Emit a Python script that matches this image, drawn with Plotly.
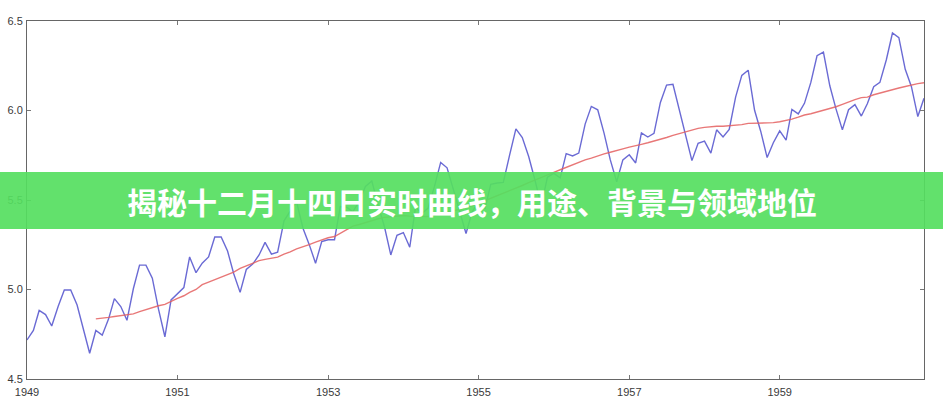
import plotly.graph_objects as go
import pandas as pd

# Monthly log values, Jan 1949 - Dec 1960
log_values = [
    4.718, 4.771, 4.883, 4.860, 4.796, 4.905, 4.997, 4.997, 4.913, 4.779, 4.644, 4.771,
    4.745, 4.836, 4.949, 4.905, 4.828, 5.004, 5.136, 5.136, 5.063, 4.890, 4.736, 4.942,
    4.977, 5.011, 5.182, 5.094, 5.147, 5.182, 5.293, 5.293, 5.215, 5.088, 4.984, 5.112,
    5.142, 5.193, 5.263, 5.198, 5.209, 5.384, 5.438, 5.489, 5.342, 5.252, 5.147, 5.268,
    5.278, 5.278, 5.464, 5.460, 5.434, 5.493, 5.576, 5.606, 5.468, 5.352, 5.193, 5.303,
    5.318, 5.236, 5.460, 5.425, 5.455, 5.576, 5.710, 5.680, 5.557, 5.434, 5.313, 5.434,
    5.489, 5.451, 5.587, 5.595, 5.598, 5.753, 5.897, 5.849, 5.743, 5.613, 5.468, 5.628,
    5.649, 5.624, 5.759, 5.746, 5.762, 5.924, 6.023, 6.004, 5.872, 5.724, 5.602, 5.724,
    5.753, 5.707, 5.875, 5.852, 5.872, 6.045, 6.142, 6.146, 6.001, 5.849, 5.720, 5.817,
    5.829, 5.762, 5.892, 5.852, 5.894, 6.075, 6.196, 6.225, 6.001, 5.883, 5.737, 5.820,
    5.886, 5.835, 6.006, 5.981, 6.040, 6.157, 6.306, 6.326, 6.138, 6.009, 5.892, 6.004,
    6.033, 5.969, 6.038, 6.133, 6.157, 6.282, 6.433, 6.407, 6.230, 6.133, 5.966, 6.068,
]

# 12-month moving average, Dec 1949 - Dec 1960
moving_avg = [
    4.836,
    4.838, 4.844, 4.849, 4.853, 4.856, 4.864, 4.876, 4.887, 4.900, 4.909, 4.917, 4.931,
    4.950, 4.965, 4.984, 5.000, 5.027, 5.041, 5.054, 5.068, 5.080, 5.097, 5.118, 5.132,
    5.146, 5.161, 5.168, 5.176, 5.181, 5.198, 5.210, 5.227, 5.237, 5.251, 5.265, 5.278,
    5.289, 5.296, 5.313, 5.335, 5.354, 5.363, 5.374, 5.384, 5.395, 5.403, 5.407, 5.410,
    5.413, 5.410, 5.409, 5.406, 5.408, 5.415, 5.426, 5.433, 5.440, 5.447, 5.457, 5.468,
    5.482, 5.500, 5.511, 5.525, 5.537, 5.552, 5.567, 5.581, 5.597, 5.612, 5.625, 5.641,
    5.654, 5.669, 5.683, 5.696, 5.709, 5.724, 5.734, 5.747, 5.758, 5.767, 5.778, 5.786,
    5.795, 5.802, 5.811, 5.820, 5.829, 5.839, 5.849, 5.861, 5.872, 5.882, 5.892, 5.900,
    5.906, 5.911, 5.912, 5.912, 5.914, 5.917, 5.921, 5.928, 5.928, 5.931, 5.932, 5.932,
    5.937, 5.943, 5.952, 5.963, 5.975, 5.982, 5.991, 5.999, 6.011, 6.021, 6.034, 6.049,
    6.061, 6.072, 6.075, 6.088, 6.098, 6.108, 6.119, 6.126, 6.134, 6.144, 6.150, 6.155,
]

dates = pd.date_range("1949-01-01", "1960-12-01", freq="MS")
ma_dates = dates[11:]

x_tick_labels = ["1949", "1951", "1953", "1955", "1957", "1959"]
y_tick_values = [4.5, 5.0, 5.5, 6.0, 6.5]

title_text = "揭秘十二月十四日实时曲线，用途、背景与领域地位"

fig = go.Figure()
fig.add_trace(go.Scatter(x=dates, y=log_values, mode="lines",
                         line=dict(color="rgba(80,80,205,0.85)", width=1.4)))
fig.add_trace(go.Scatter(x=ma_dates, y=moving_avg, mode="lines",
                         line=dict(color="rgba(228,95,95,0.85)", width=1.4)))

W, H = 943, 400
L, R, T, B = 27, 19, 21, 21
pw, ph = W - L - R, H - T - B

tick_font = dict(family="Liberation Sans", size=11, color="#3a3a3a")

fig.update_layout(
    width=W, height=H,
    margin=dict(l=L, r=R, t=T, b=B, pad=0),
    paper_bgcolor="white", plot_bgcolor="white",
    showlegend=False,
    font=dict(family="Liberation Sans", size=11, color="#3a3a3a"),
)
fig.update_xaxes(
    range=[dates[0], dates[-1]],
    tickvals=[f"{y}-01-01" for y in x_tick_labels],
    ticktext=x_tick_labels,
    ticks="inside", ticklen=4, tickcolor="#777",
    showline=True, linecolor="#666", linewidth=1, mirror="ticks",
    showgrid=False, zeroline=False, automargin=False,
    ticklabelstandoff=3,
    tickfont=tick_font,
)
fig.update_yaxes(
    range=[4.5, 6.5],
    tickvals=y_tick_values,
    ticktext=[f"{v:.1f}" for v in y_tick_values],
    ticks="inside", ticklen=4, tickcolor="#777",
    showline=True, linecolor="#666", linewidth=1, mirror="ticks",
    showgrid=False, zeroline=False, automargin=False,
    ticklabelstandoff=1,
    tickfont=tick_font,
)

# Banner
band_top, band_bot = 172, 229
fig.add_shape(type="rect", xref="paper", yref="paper",
              x0=-L / pw, x1=1 + R / pw,
              y0=(H - B - band_bot) / ph, y1=(H - B - band_top) / ph,
              fillcolor="rgba(85,222,95,0.92)", line=dict(width=0), layer="above")
fig.add_annotation(xref="paper", yref="paper",
                   x=(471.5 - L) / pw, y=(H - B - 201) / ph,
                   text=f"<b>{title_text}</b>", showarrow=False,
                   font=dict(family="Noto Sans CJK SC", size=30, color="white"),
                   xanchor="center", yanchor="middle")

fig.write_html("out.html",
               config={"displayModeBar": False},
               post_script="document.body.style.margin='0';document.body.style.overflow='hidden';")
